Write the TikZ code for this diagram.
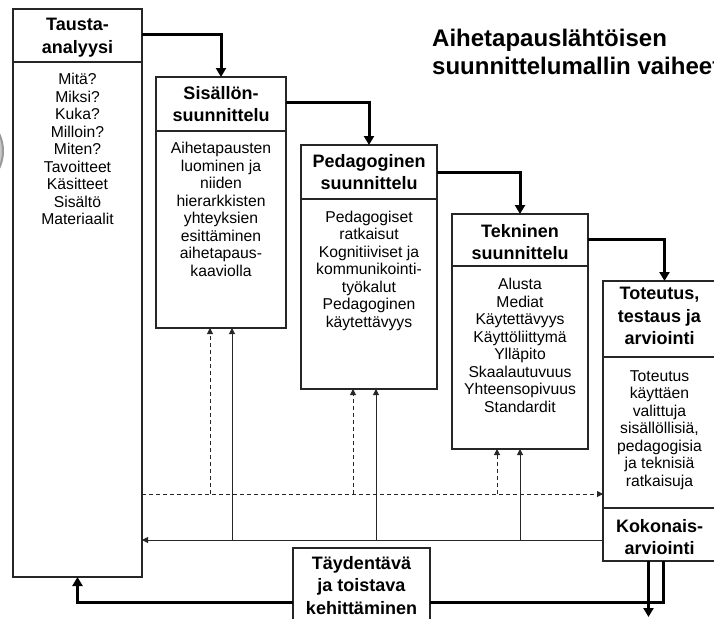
\documentclass[tikz,border=0pt]{standalone}
\usepackage{fontspec}
\setmainfont{Liberation Sans}
\usetikzlibrary{arrows.meta}
\begin{document}
\begin{tikzpicture}[x=1pt,y=-1pt,
  box/.style={draw=black!85, line width=1.2pt, fill=white, inner sep=0pt, outer sep=0pt},
  divider/.style={draw=black!85, line width=1.2pt},
  head/.style={font=\bfseries\fontsize{18}{22.5}\selectfont, align=center, anchor=north, inner sep=0pt},
  body/.style={font=\fontsize{15.7}{17.5}\selectfont, align=center, anchor=north, inner sep=0pt},
  titletext/.style={font=\bfseries\fontsize{24}{28}\selectfont, align=left, anchor=north west, inner sep=0pt},
  flow/.style={line width=3pt, -{Triangle[length=9pt,width=10pt]}},
  thickline/.style={line width=3pt},
  sflow/.style={line width=1pt, black!85, -{Triangle[length=6pt,width=6pt]}},
  dflow/.style={line width=1pt, black!85, dash pattern=on 4pt off 3pt, -{Triangle[length=6pt,width=6pt]}}
]
\useasboundingbox (0,0) rectangle (714,618);

% gray decoration at the left edge
\fill[gray!45, draw=gray!80, line width=2pt] (-37,151) circle[radius=40pt];

% boxes
\node[box, minimum width=129pt, minimum height=568pt] (tausta) at (77.5,293) {};
\node[box, minimum width=130pt, minimum height=251pt] (sis) at (221,202.5) {};
\node[box, minimum width=136pt, minimum height=244pt] (ped) at (369,267) {};
\node[box, minimum width=136pt, minimum height=235pt] (tek) at (520,331.5) {};
\node[box, minimum width=113pt, minimum height=280pt] (tot) at (659.5,421) {};
\node[box, minimum width=137pt, minimum height=78pt] (tay) at (361.5,587) {};

% dividers
\draw[divider] ([yshift=-53pt]tausta.north west) -- ([yshift=-53pt]tausta.north east);
\draw[divider] ([yshift=-54pt]sis.north west) -- ([yshift=-54pt]sis.north east);
\draw[divider] ([yshift=-54pt]ped.north west) -- ([yshift=-54pt]ped.north east);
\draw[divider] ([yshift=-52pt]tek.north west) -- ([yshift=-52pt]tek.north east);
\draw[divider] ([yshift=-76pt]tot.north west) -- ([yshift=-76pt]tot.north east);
\draw[divider] ([yshift=-227pt]tot.north west) -- ([yshift=-227pt]tot.north east);

% texts
\node[titletext] (title) at (432,28.5) {Aihetapauslähtöisen\\suunnittelumallin vaiheet};

\node[head] (taushead) at ([yshift=-9pt]tausta.north) {Tausta-\\analyysi};
\node[body] (tausbody) at ([yshift=-64pt]tausta.north) {Mitä?\\Miksi?\\Kuka?\\Milloin?\\Miten?\\Tavoitteet\\Käsitteet\\Sisältö\\Materiaalit};

\node[head] (sishead) at ([yshift=-9pt]sis.north) {Sisällön-\\suunnittelu};
\node[body] (sisbody) at ([yshift=-65pt]sis.north) {Aihetapausten\\luominen ja\\niiden\\hierarkkisten\\yhteyksien\\esittäminen\\aihetapaus-\\kaaviolla};

\node[head] (pedhead) at ([yshift=-9pt]ped.north) {Pedagoginen\\suunnittelu};
\node[body] (pedbody) at ([yshift=-65.5pt]ped.north) {Pedagogiset\\ratkaisut\\Kognitiiviset ja\\kommunikointi-\\työkalut\\Pedagoginen\\käytettävyys};

\node[head] (tekhead) at ([yshift=-10pt]tek.north) {Tekninen\\suunnittelu};
\node[body] (tekbody) at ([yshift=-64pt]tek.north) {Alusta\\Mediat\\Käytettävyys\\Käyttöliittymä\\Ylläpito\\Skaalautuvuus\\Yhteensopivuus\\Standardit};

\node[head] (tothead) at ([yshift=-6pt]tot.north) {Toteutus,\\testaus ja\\arviointi};
\node[body] (totbody) at ([yshift=-89pt]tot.north) {Toteutus\\käyttäen\\valittuja\\sisällöllisiä,\\pedagogisia\\ja teknisiä\\ratkaisuja};
\node[head] (kokohead) at ([yshift=-238pt]tot.north) {Kokonais-\\arviointi};

\node[head] (tayhead) at ([yshift=-8pt]tay.north) {Täydentävä\\ja toistava\\kehittäminen};

% helper levels
\coordinate (dashy) at (0,494);
\coordinate (soly) at (0,540);
\coordinate (boty) at (0,602);
\coordinate (edgey) at (0,617);

% main flow
\draw[flow] ([yshift=-26pt]tausta.north east) -| (sis.north);
\draw[flow] ([yshift=-25pt]sis.north east) -| (ped.north);
\draw[flow] ([yshift=-27pt]ped.north east) -| (tek.north);
\draw[flow] ([yshift=-25pt]tek.north east) -| ([xshift=5pt]tot.north);

% attachment points under the boxes
\coordinate (sd) at ([xshift=-11pt]sis.south);
\coordinate (ss) at ([xshift=11pt]sis.south);
\coordinate (pd) at ([xshift=-16pt]ped.south);
\coordinate (ps) at ([xshift=7pt]ped.south);
\coordinate (td) at ([xshift=-23pt]tek.south);
\coordinate (ts) at (tek.south);

% dashed feedforward
\draw[dflow] (tausta.east |- dashy) -- (tot.west |- dashy);
\draw[dflow] (sd |- dashy) -- (sd);
\draw[dflow] (pd |- dashy) -- (pd);
\draw[dflow] (td |- dashy) -- (td);

% solid feedback
\draw[sflow] (tot.west |- soly) -- (tausta.east |- soly);
\draw[sflow] (ss |- soly) -- (ss);
\draw[sflow] (ps |- soly) -- (ps);
\draw[sflow] (ts |- soly) -- (ts);

% bottom loop
\coordinate (k1) at ([xshift=-11pt]tot.south);
\coordinate (k2) at ([xshift=4pt]tot.south);
\draw[flow] (k1) -- (k1 |- edgey);
\draw[thickline] (k2) |- (tay.east |- boty);
\draw[flow] (tay.west |- boty) -| (tausta.south);
\end{tikzpicture}
\end{document}
